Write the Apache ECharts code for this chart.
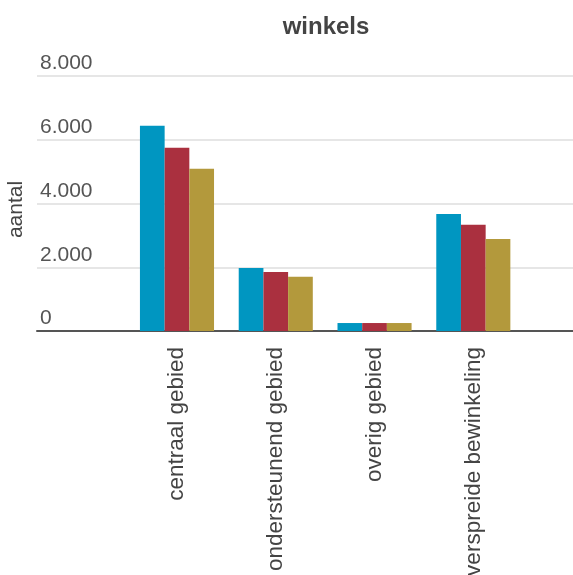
<!DOCTYPE html>
<html>
<head>
<meta charset="utf-8">
<script src="https://cdn.jsdelivr.net/npm/echarts@6/dist/echarts.min.js"></script>
<style>
  html, body { margin: 0; padding: 0; background: #fff; }
  #chart { width: 573px; height: 575px; }
</style>
</head>
<body>
<div id="chart"></div>
<script>
// Shop counts per area type, three series per category
const categories = ['centraal gebied', 'ondersteunend gebied', 'overig gebied', 'verspreide bewinkeling'];
const seriesA = [6440, 1980, 250, 3670];
const seriesB = [5750, 1850, 250, 3330];
const seriesC = [5090, 1700, 250, 2890];
const seriesNames = ['reeks 1', 'reeks 2', 'reeks 3'];
const colors = ['#0096c1', '#aa303f', '#b3993c'];
const yMax = 8000;
const yStep = 2000;

const FONT = '"Liberation Sans", Arial, Helvetica, sans-serif';
const chart = echarts.init(document.getElementById('chart'), null, { renderer: 'canvas' });

// dotted thousands separator
const fmt = v => String(v).replace(/\B(?=(\d{3})+(?!\d))/g, '.');

const gridTop = 76, gridBottom = 244;

chart.setOption({
  animation: false,
  backgroundColor: '#ffffff',
  title: {
    text: 'winkels',
    left: 321,
    top: 10,
    textAlign: 'center',
    textStyle: { fontFamily: FONT, fontSize: 24, fontWeight: 'bold', color: '#444444' }
  },
  grid: [
    // full-width frame: gridlines, value labels, baseline
    { left: 37, right: 0, top: gridTop, bottom: gridBottom, outerBoundsMode: 'none', containLabel: false },
    // bar area
    { left: 127.6, right: 50.3, top: gridTop, bottom: gridBottom, outerBoundsMode: 'none', containLabel: false }
  ],
  xAxis: [
    {
      gridIndex: 0, type: 'category', data: [''],
      axisLine: { show: true, lineStyle: { color: '#555555', width: 2 } },
      axisTick: { show: false }, axisLabel: { show: false }, splitLine: { show: false }
    },
    {
      gridIndex: 1, type: 'category', data: categories,
      axisLine: { show: false }, axisTick: { show: false },
      axisLabel: {
        rotate: 90, margin: 16, interval: 0,
        fontFamily: FONT, fontSize: 22.5, color: '#444444'
      }
    }
  ],
  yAxis: [
    {
      gridIndex: 0, type: 'value', min: 0, max: yMax, interval: yStep,
      name: 'aantal', nameLocation: 'middle', nameGap: 10, nameRotate: 90,
      nameTextStyle: { fontFamily: FONT, fontSize: 21, color: '#444444', padding: [0, 12, 0, 0] },
      axisLine: { show: false }, axisTick: { show: false },
      axisLabel: {
        inside: true, margin: 3, verticalAlign: 'bottom', padding: [0, 0, 2, 0],
        fontFamily: FONT, fontSize: 21, color: '#555555', formatter: fmt
      },
      splitLine: { show: true, lineStyle: { color: '#e6e6e6', width: 2 } }
    },
    {
      gridIndex: 1, type: 'value', min: 0, max: yMax, interval: yStep,
      axisLine: { show: false }, axisTick: { show: false },
      axisLabel: { show: false }, splitLine: { show: false }
    }
  ],
  series: [seriesA, seriesB, seriesC].map((d, i) => ({
    name: seriesNames[i],
    type: 'bar',
    xAxisIndex: 1,
    yAxisIndex: 1,
    data: d,
    barGap: '0%',
    barCategoryGap: '25%',
    itemStyle: { color: colors[i] },
    z: 3
  }))
});
</script>
</body>
</html>
